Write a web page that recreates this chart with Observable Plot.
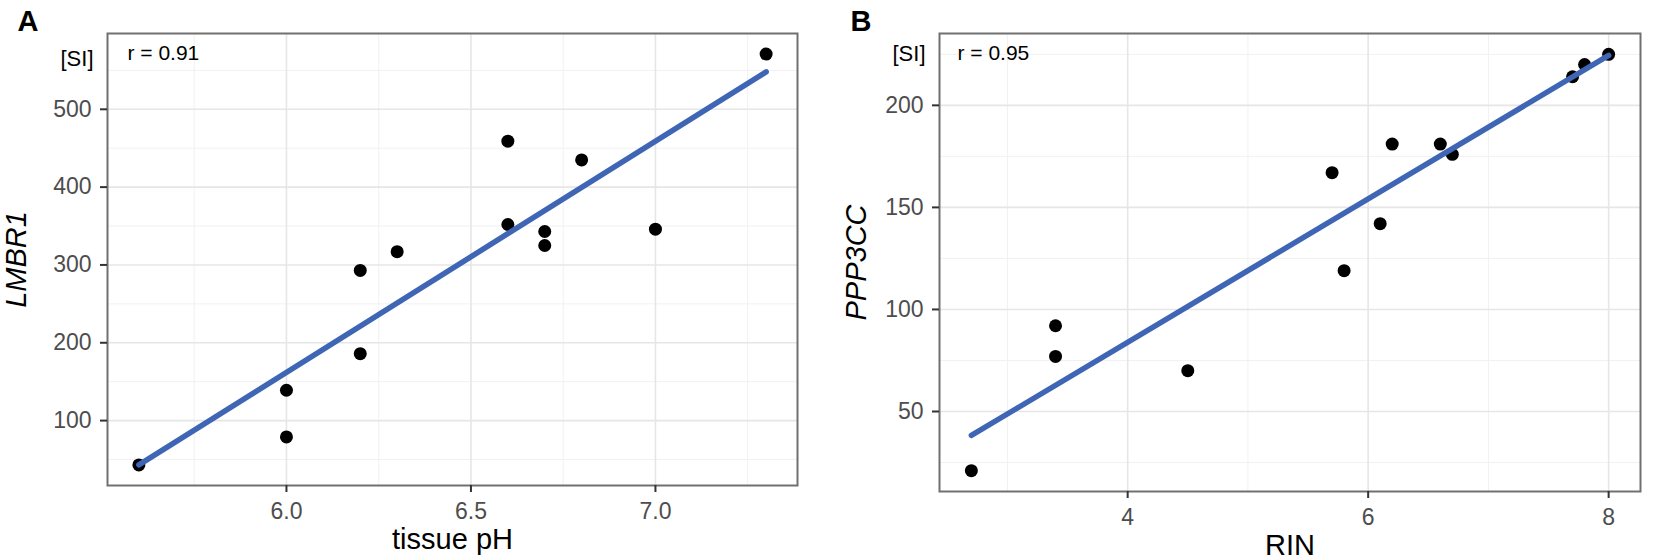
<!DOCTYPE html>
<html><head><meta charset="utf-8">
<script src="https://cdn.jsdelivr.net/npm/d3@7"></script>
<script src="https://cdn.jsdelivr.net/npm/@observablehq/plot@0.6"></script>
<style>
html,body{margin:0;padding:0;background:#fff;}
#wrap{position:relative;width:1654px;height:560px;overflow:hidden;font-family:"Liberation Sans",Arial,sans-serif;}
#wrap svg{position:absolute;top:0;}
</style></head><body><div id="wrap"></div>
<script>
// Panel A: tissue pH vs LMBR1
const phA    = [5.6, 6.0, 6.0, 6.2, 6.2, 6.3, 6.6, 6.6, 6.7, 6.7, 6.8, 7.0, 7.3];
const lmbr1  = [43, 139, 79, 186, 293, 317, 459, 352, 343, 325, 435, 346, 571];
// Panel B: RIN vs PPP3CC
const rinB   = [2.7, 3.4, 3.4, 4.5, 5.7, 5.8, 6.1, 6.2, 6.6, 6.7, 7.7, 7.8, 8.0];
const ppp3cc = [21, 92, 77, 70, 167, 119, 142, 181, 181, 176, 214, 220, 225];

const xTicksA = [6.0, 6.5, 7.0];
const xMinorA = [5.75, 6.25, 6.75, 7.25];
const yTicksA = [100, 200, 300, 400, 500];
const yMinorA = [50, 150, 250, 350, 450, 550];
const xTicksB = [4, 6, 8];
const xMinorB = [3, 5, 7];
const yTicksB = [50, 100, 150, 200];
const yMinorB = [25, 75, 125, 175, 225];

const labelsA = {letter: "A", x: "tissue pH", y: "LMBR1", r: "r = 0.91", unit: "[SI]"};
const labelsB = {letter: "B", x: "RIN", y: "PPP3CC", r: "r = 0.95", unit: "[SI]"};

function padded(v) { const [a, b] = d3.extent(v); const p = 0.05 * (b - a); return [a - p, b + p]; }

function panel(c) {
  const data = c.xs.map((x, i) => ({x, y: c.ys[i]}));
  return Plot.plot({
    width: c.width, height: 560,
    marginLeft: c.ml, marginRight: c.mr, marginTop: c.mt, marginBottom: c.mb,
    style: {fontFamily: "Liberation Sans, Arial, sans-serif", background: "white", overflow: "visible"},
    x: {domain: padded(c.xs)},
    y: {domain: padded(c.ys)},
    marks: [
      Plot.ruleX(c.xMinor, {stroke: "#f1f1f1", strokeWidth: 1}),
      Plot.ruleY(c.yMinor, {stroke: "#f1f1f1", strokeWidth: 1}),
      Plot.ruleX(c.xTicks, {stroke: "#e6e6e6", strokeWidth: 1.6}),
      Plot.ruleY(c.yTicks, {stroke: "#e6e6e6", strokeWidth: 1.6}),
      Plot.dot(data, {x: "x", y: "y", r: 6.5, fill: "black"}),
      Plot.linearRegressionY(data, {x: "x", y: "y", stroke: "#3f65b5", strokeWidth: 5.5, ci: 0}),
      Plot.frame({stroke: "#707070", strokeWidth: 2}),
      Plot.axisX({ticks: c.xTicks, tickFormat: c.xFormat, tickSize: 7, tickPadding: 10, fontSize: 23,
                  label: null, stroke: "#333", strokeWidth: 2, fill: "#4d4d4d"}),
      Plot.axisY({ticks: c.yTicks, tickSize: 7, tickPadding: 9, fontSize: 23,
                  label: null, stroke: "#333", strokeWidth: 2, fill: "#4d4d4d"}),
      Plot.text([c.labels.x], {frameAnchor: "bottom", dy: 54, dx: c.xLabelDx, fontSize: 29, fill: "black",
                               textAnchor: "middle", lineAnchor: "middle"}),
      Plot.text([c.labels.y], {frameAnchor: "left", dx: c.yLabelDx, dy: c.yLabelDy, rotate: -90, fontSize: 29, fontStyle: "italic",
                               fill: "black", textAnchor: "middle", lineAnchor: "middle"}),
      Plot.text([c.labels.unit], {frameAnchor: "top-left", dx: -14, dy: c.unitDy, fontSize: 22, fill: "black",
                                  textAnchor: "end", lineAnchor: "middle"}),
      Plot.text([c.labels.r], {frameAnchor: "top-left", dx: c.rDx, dy: 19.5, fontSize: 21, fill: "black",
                               textAnchor: "start", lineAnchor: "middle"}),
      Plot.text([c.labels.letter], {frameAnchor: "top-left", dx: c.letterDx, dy: -12, fontSize: 29, fontWeight: "bold",
                                    fill: "black", textAnchor: "start", lineAnchor: "middle"})
    ]
  });
}

const wrap = document.getElementById("wrap");
const svgA = panel({xs: phA, ys: lmbr1, xTicks: xTicksA, xMinor: xMinorA, yTicks: yTicksA, yMinor: yMinorA,
  xFormat: d3.format(".1f"), labels: labelsA, width: 820, ml: 107, mr: 23, mt: 33, mb: 75,
  xLabelDx: 0, yLabelDx: -91, yLabelDy: 0, unitDy: 25, rDx: 20, letterDx: -90});
svgA.style.left = "0px";
wrap.appendChild(svgA);
const svgB = panel({xs: rinB, ys: ppp3cc, xTicks: xTicksB, xMinor: xMinorB, yTicks: yTicksB, yMinor: yMinorB,
  xFormat: d3.format("d"), labels: labelsB, width: 834, ml: 119, mr: 14, mt: 33, mb: 69,
  xLabelDx: 0, yLabelDx: -83, yLabelDy: 0, unitDy: 20, rDx: 18, letterDx: -89});
svgB.style.left = "820px";
wrap.appendChild(svgB);
</script></body></html>
